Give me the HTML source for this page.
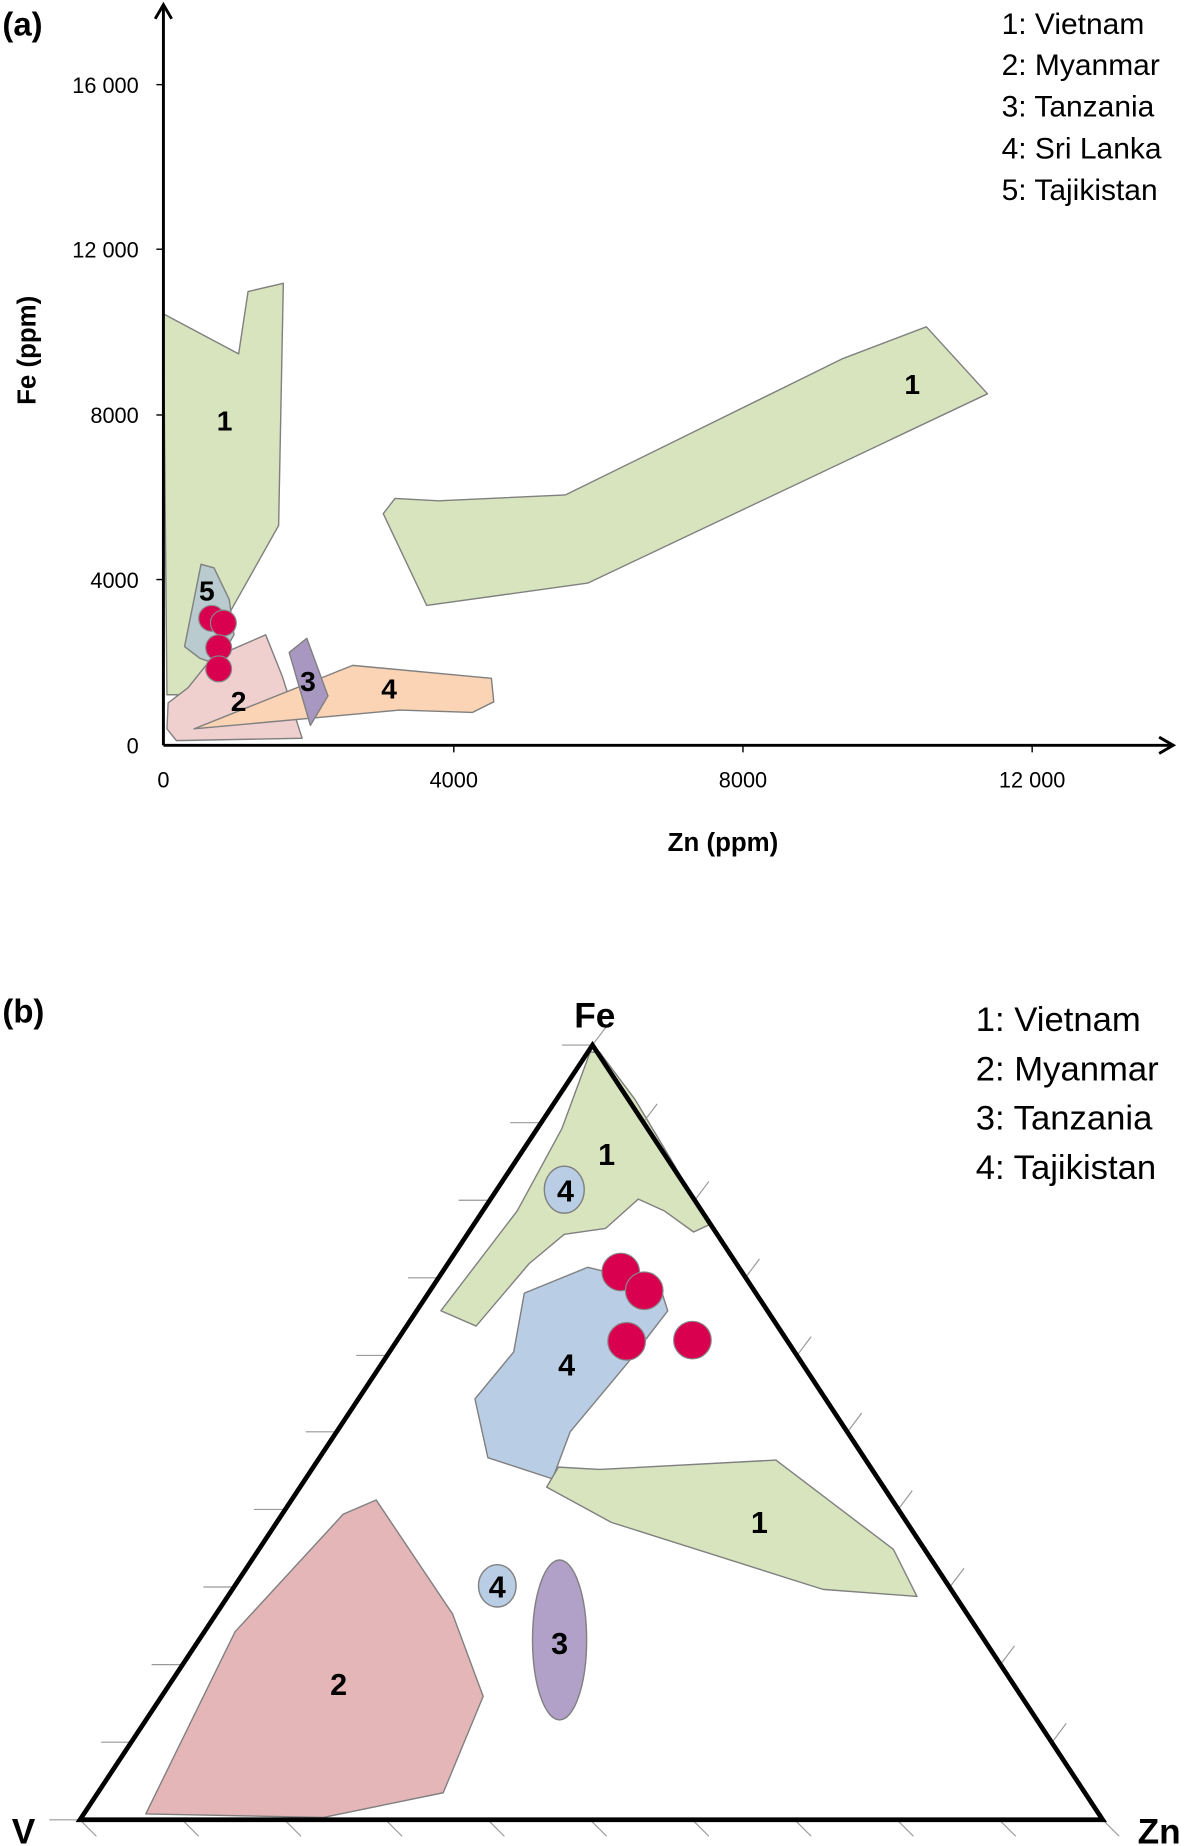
<!DOCTYPE html>
<html><head><meta charset="utf-8"><style>html,body{margin:0;padding:0;background:#fff}svg{display:block}text{font-family:"Liberation Sans","DejaVu Sans",sans-serif}</style></head>
<body>
<svg width="1185" height="1846" viewBox="0 0 1008 1570.3" xmlns="http://www.w3.org/2000/svg">
<g stroke="#808080" stroke-width="1.2" stroke-linejoin="round">
<polygon points="139,267 203,301 211,248 241,241 237,447 196,520 170,591 142,591" fill="#d7e4bd"/>
<polygon points="326,437 336,424 373,426 481,421 717,305 788,278 840,335 500,496 363,515" fill="#d7e4bd"/>
<polygon points="143,598 160,585 180,560 226,540 240,575 257,628 150,630 142,620" fill="#f0cfcf"/>
<polygon points="165,620 300,566 418,577 420,597 402,606 340,604" fill="#fad4b4"/>
<polygon points="157,550 171,480 182,483 195,510 199,540 185,565 170,560" fill="#b9cbce"/>
<polygon points="246,555 261,543 279,592 264,617" fill="#a897c0"/>
</g>
<g fill="#d9004f" stroke="#888" stroke-width="1">
<circle cx="180" cy="526" r="11"/><circle cx="190" cy="530" r="11"/><circle cx="186" cy="551" r="11"/><circle cx="186" cy="569" r="11"/>
</g>
<g stroke="#000" stroke-width="2.5" fill="none">
<line x1="139" y1="4" x2="139" y2="634"/><line x1="139" y1="634" x2="998" y2="634"/>
<polyline points="132,16 139,4 146,16"/><polyline points="986,627 998,634 986,641"/>
</g>
<g stroke="#000" stroke-width="1.2">
<line x1="133" y1="72" x2="139" y2="72"/><line x1="133" y1="212" x2="139" y2="212"/><line x1="133" y1="353" x2="139" y2="353"/><line x1="133" y1="493" x2="139" y2="493"/>
<line x1="386" y1="634" x2="386" y2="640"/><line x1="632" y1="634" x2="632" y2="640"/><line x1="878" y1="634" x2="878" y2="640"/>
</g>
<g font-size="18.5" text-anchor="end"><text x="118" y="79">16 000</text><text x="118" y="219">12 000</text><text x="118" y="360">8000</text><text x="118" y="500">4000</text><text x="118" y="641">0</text></g>
<g font-size="18.5" text-anchor="middle"><text x="139" y="670">0</text><text x="386" y="670">4000</text><text x="632" y="670">8000</text><text x="878" y="670">12 000</text></g>
<text x="615" y="724" font-size="22" font-weight="bold" text-anchor="middle">Zn (ppm)</text>
<text transform="translate(30,298) rotate(-90)" font-size="22" font-weight="bold" text-anchor="middle">Fe (ppm)</text>
<text x="2" y="30" font-size="28" font-weight="bold">(a)</text>
<g font-size="24" font-weight="bold" text-anchor="middle"><text x="191" y="366">1</text><text x="776" y="335">1</text><text x="176" y="511">5</text><text x="203" y="605">2</text><text x="262" y="588">3</text><text x="331" y="594">4</text></g>
<g font-size="25.5"><text x="852" y="29">1: Vietnam</text><text x="852" y="64">2: Myanmar</text><text x="852" y="99">3: Tanzania</text><text x="852" y="135">4: Sri Lanka</text><text x="852" y="170">5: Tajikistan</text></g>

<g stroke="#808080" stroke-width="1.2" stroke-linejoin="round">
<polygon points="375,1115 440,1030 478,960 502,895 510,895 540,935 570,985 603,1042 590,1048 565,1030 543,1020 515,1045 480,1050 450,1075 405,1128" fill="#d7e4bd"/>
<polygon points="446,1100 500,1078 520,1083 560,1090 568,1115 535,1158 485,1218 470,1258 415,1240 404,1190 437,1150" fill="#b9cde4"/>
<polygon points="465,1265 475,1248 510,1250 660,1242 760,1318 780,1358 700,1352 520,1295" fill="#d7e4bd"/>
<polygon points="124,1543 200,1388 292,1288 320,1276 385,1373 411,1443 377,1525 275,1546" fill="#e5b6b7"/>
<ellipse cx="480" cy="1012" rx="17" ry="20" fill="#b9cde4"/>
<ellipse cx="423" cy="1349" rx="16" ry="18" fill="#b9cde4"/>
<ellipse cx="476" cy="1395" rx="23" ry="68" fill="#b1a0c7"/>
</g>
<g fill="#d9004f" stroke="#888" stroke-width="1">
<circle cx="528" cy="1082" r="16"/><circle cx="548" cy="1098" r="16"/><circle cx="533" cy="1141" r="16"/><circle cx="589" cy="1140" r="16"/>
</g>
<g stroke="#999" stroke-width="1">
<line x1="478" y1="889" x2="504" y2="889"/><line x1="434" y1="955" x2="460" y2="955"/><line x1="390" y1="1021" x2="417" y2="1021"/><line x1="347" y1="1087" x2="373" y2="1087"/><line x1="303" y1="1153" x2="330" y2="1153"/><line x1="260" y1="1218" x2="286" y2="1218"/><line x1="216" y1="1284" x2="242" y2="1284"/><line x1="173" y1="1350" x2="199" y2="1350"/><line x1="129" y1="1416" x2="155" y2="1416"/><line x1="86" y1="1482" x2="112" y2="1482"/><line x1="42" y1="1548" x2="68" y2="1548"/>
<line x1="68" y1="1548" x2="82" y2="1562"/><line x1="155" y1="1548" x2="169" y2="1562"/><line x1="242" y1="1548" x2="256" y2="1562"/><line x1="328" y1="1548" x2="342" y2="1562"/><line x1="415" y1="1548" x2="429" y2="1562"/><line x1="502" y1="1548" x2="516" y2="1562"/><line x1="589" y1="1548" x2="603" y2="1562"/><line x1="676" y1="1548" x2="690" y2="1562"/><line x1="763" y1="1548" x2="777" y2="1562"/><line x1="850" y1="1548" x2="864" y2="1562"/><line x1="938" y1="1548" x2="952" y2="1562"/>
<line x1="504" y1="889" x2="516" y2="873"/><line x1="547" y1="955" x2="559" y2="939"/><line x1="591" y1="1021" x2="603" y2="1005"/><line x1="634" y1="1087" x2="646" y2="1071"/><line x1="678" y1="1153" x2="690" y2="1137"/><line x1="721" y1="1218" x2="733" y2="1202"/><line x1="764" y1="1284" x2="776" y2="1268"/><line x1="808" y1="1350" x2="820" y2="1334"/><line x1="851" y1="1416" x2="863" y2="1400"/><line x1="895" y1="1482" x2="907" y2="1466"/>
</g>
<polygon points="68,1548 504,889 938,1548" fill="none" stroke="#000" stroke-width="4" stroke-linejoin="miter"/>
<g font-size="26" font-weight="bold" text-anchor="middle"><text x="516" y="991">1</text><text x="481" y="1022">4</text><text x="482" y="1170">4</text><text x="646" y="1304">1</text><text x="423" y="1359">4</text><text x="476" y="1407">3</text><text x="288" y="1442">2</text></g>
<text x="506" y="874" font-size="30" font-weight="bold" text-anchor="middle">Fe</text>
<text x="20" y="1568" font-size="30" font-weight="bold" text-anchor="middle">V</text>
<text x="986" y="1568" font-size="30" font-weight="bold" text-anchor="middle">Zn</text>
<text x="2" y="870" font-size="28" font-weight="bold">(b)</text>
<g font-size="29.5"><text x="830" y="877">1: Vietnam</text><text x="830" y="919">2: Myanmar</text><text x="830" y="961">3: Tanzania</text><text x="830" y="1003">4: Tajikistan</text></g>
</svg>
</body></html>
